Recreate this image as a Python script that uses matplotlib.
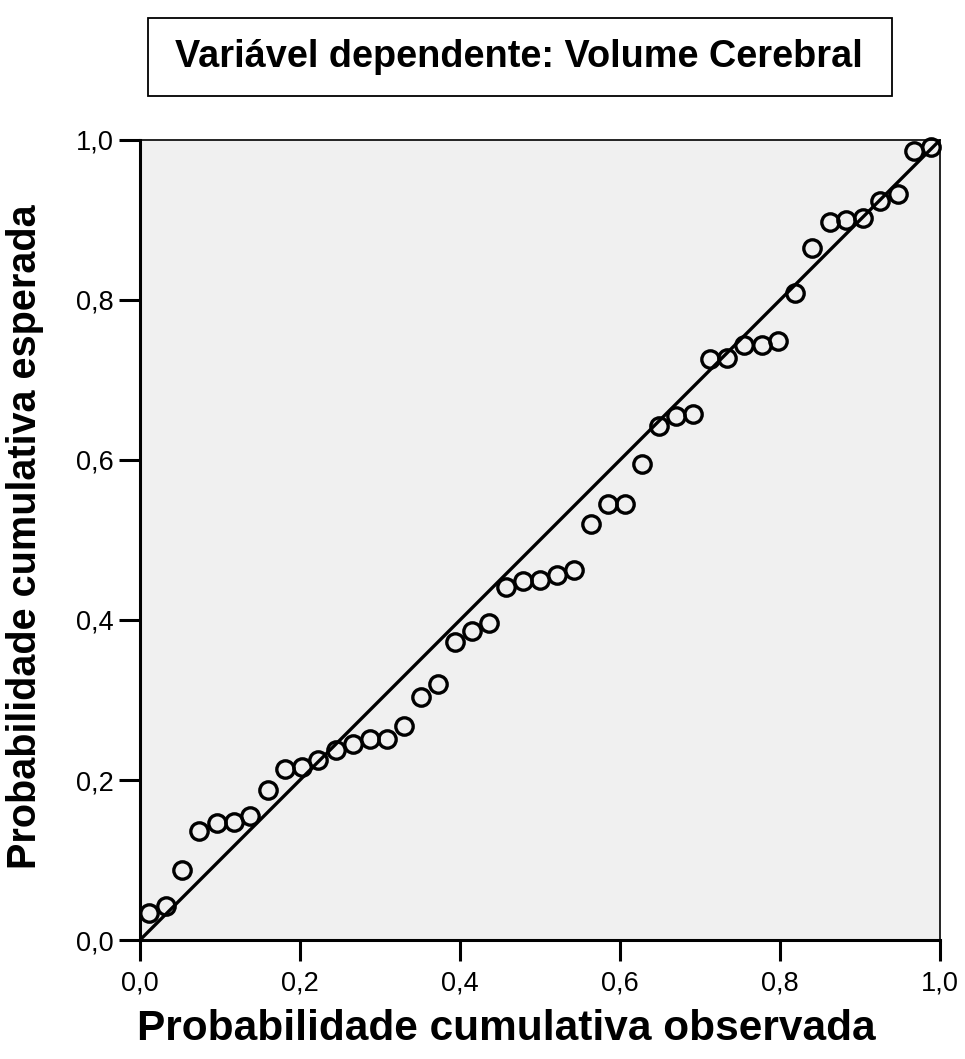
import matplotlib.pyplot as plt
from matplotlib.patches import Rectangle
from matplotlib.ticker import FixedLocator

plt.rcParams['font.family'] = ['Liberation Sans', 'DejaVu Sans']

title = "Variável dependente: Volume Cerebral"
x_label = "Probabilidade cumulativa observada"
y_label = "Probabilidade cumulativa esperada"

observed = [0.011, 0.032, 0.053, 0.074, 0.096, 0.117, 0.138, 0.160, 0.181, 0.202,
            0.223, 0.245, 0.266, 0.287, 0.309, 0.330, 0.351, 0.372, 0.394, 0.415,
            0.436, 0.457, 0.479, 0.500, 0.521, 0.543, 0.564, 0.585, 0.606, 0.628,
            0.649, 0.670, 0.691, 0.713, 0.734, 0.755, 0.777, 0.798, 0.819, 0.840,
            0.862, 0.883, 0.904, 0.925, 0.947, 0.968, 0.989]
expected = [0.034, 0.043, 0.088, 0.136, 0.146, 0.148, 0.155, 0.188, 0.214, 0.216,
            0.225, 0.237, 0.245, 0.251, 0.251, 0.268, 0.304, 0.320, 0.372, 0.386,
            0.396, 0.441, 0.449, 0.450, 0.456, 0.462, 0.520, 0.545, 0.545, 0.595,
            0.643, 0.655, 0.658, 0.726, 0.727, 0.744, 0.744, 0.749, 0.809, 0.865,
            0.897, 0.900, 0.902, 0.924, 0.933, 0.986, 0.991]

ticks = [0.0, 0.2, 0.4, 0.6, 0.8, 1.0]
tick_labels = ["0,0", "0,2", "0,4", "0,6", "0,8", "1,0"]

fig = plt.figure(figsize=(9.65, 10.59), dpi=100)
ax = fig.add_axes([140 / 965, 1 - 940 / 1059, 800 / 965, 800 / 1059])
ax.set_facecolor("#f0f0f0")

ax.plot([0, 1], [0, 1], color="black", lw=2.4, zorder=2)
ax.plot(observed, expected, "o", ms=12.5, mfc="none", mec="black", mew=2.4,
        zorder=3, clip_on=False)

ax.set_xlim(0, 1)
ax.set_ylim(0, 1)
ax.xaxis.set_major_locator(FixedLocator(ticks))
ax.yaxis.set_major_locator(FixedLocator(ticks))
ax.set_xticklabels(tick_labels)
ax.set_yticklabels(tick_labels)
ax.tick_params(direction="out", length=15, width=2.2, labelsize=19.5, colors="black")
ax.tick_params(axis="x", pad=7)
ax.tick_params(axis="y", pad=4)

for side in ["top", "right"]:
    ax.spines[side].set_linewidth(1.2)
for side in ["left", "bottom"]:
    ax.spines[side].set_linewidth(2.2)

# axis titles placed in figure coords to match the reference
fig.text(506 / 965, 1 - 1040 / 1059, x_label, fontsize=30.5, fontweight="bold",
         ha="center", va="baseline")
fig.text(25 / 965, 1 - 537 / 1059, y_label, fontsize=28.5, fontweight="bold",
         ha="center", va="center", rotation=90)

# boxed title at the top
fig.add_artist(Rectangle((148 / 965, 1 - 96 / 1059), 744 / 965, 78 / 1059,
                         transform=fig.transFigure, fill=False, ec="black", lw=1.3))
fig.text(175 / 965, 1 - 57 / 1059, title, fontsize=27.3, fontweight="bold",
         ha="left", va="center")

fig.savefig("out.png", dpi=100)
